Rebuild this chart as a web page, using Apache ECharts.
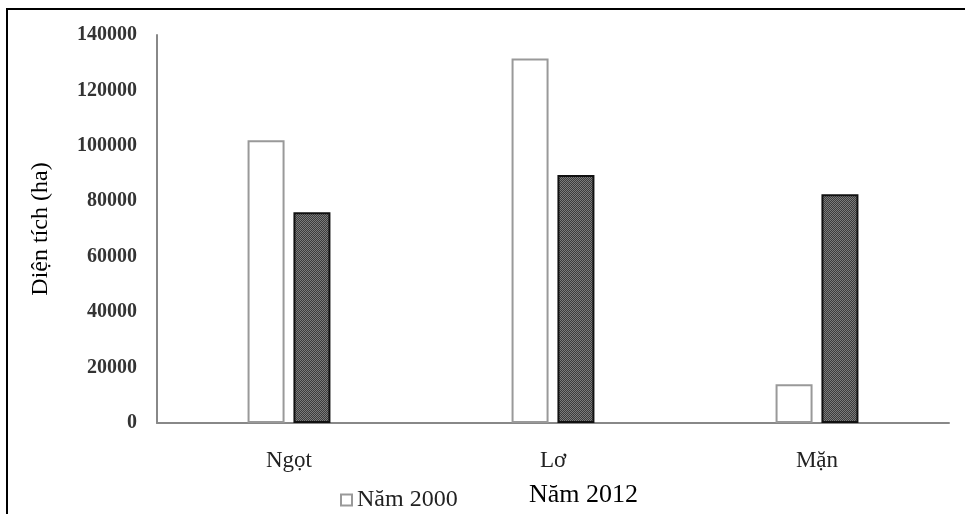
<!DOCTYPE html>
<html>
<head>
<meta charset="utf-8">
<script src="https://cdn.jsdelivr.net/npm/echarts@6/dist/echarts.min.js"></script>
<style>
  html, body { margin: 0; padding: 0; background: #fff; }
  #chart { width: 965px; height: 514px; }
</style>
</head>
<body>
<div id="chart"></div>
<script>
// Diện tích theo loại nước (ha)
const categories = ['Ngọt', 'Lơ', 'Mặn'];
const nam2000 = [102000, 131500, 14000];
const nam2012 = [76000, 89500, 82500];
const yTicks = [0, 20000, 40000, 60000, 80000, 100000, 120000, 140000];

// Dotted dark fill for the 2012 bars
function makePattern() {
  const c = document.createElement('canvas');
  c.width = 2; c.height = 2;
  const ctx = c.getContext('2d');
  ctx.fillStyle = '#3c3c3c'; ctx.fillRect(0, 0, 2, 2);
  ctx.fillStyle = '#7c7c7c'; ctx.fillRect(0, 0, 1, 1); ctx.fillRect(1, 1, 1, 1);
  return c;
}

const chart = echarts.init(document.getElementById('chart'));
chart.setOption({
  animation: false,
  backgroundColor: '#fff',
  graphic: [{
    type: 'rect',
    shape: { x: 7, y: 9, width: 980, height: 520 },
    style: { fill: 'none', stroke: '#000', lineWidth: 2 }
  }],
  grid: { left: 157, right: 16, top: 35, bottom: 91 },
  legend: [{
    data: ['Năm 2000'],
    left: 335, top: 483,
    itemWidth: 11, itemHeight: 11, itemGap: 2,
    icon: 'rect',
    textStyle: { fontFamily: 'Liberation Serif', fontSize: 24, color: '#222', padding: [0, 0, 0, 0] }
  }, {
    data: ['Năm 2012'],
    left: 518, top: 477,
    itemWidth: 0, itemHeight: 0, itemGap: 0,
    textStyle: { fontFamily: 'Liberation Serif', fontSize: 26, color: '#000' }
  }],
  xAxis: {
    type: 'category',
    data: categories,
    axisLine: { lineStyle: { color: '#888', width: 2 } },
    axisTick: { show: false },
    axisLabel: { fontFamily: 'Liberation Serif', fontSize: 23, color: '#222', margin: 26 }
  },
  yAxis: {
    type: 'value',
    min: 0, max: 140000, interval: 20000,
    name: 'Diện tích (ha)',
    nameLocation: 'middle',
    nameGap: 104,
    nameTextStyle: { fontFamily: 'Liberation Serif', fontSize: 24, color: '#000' },
    axisLine: { show: true, lineStyle: { color: '#888', width: 2 } },
    axisTick: { show: false },
    splitLine: { show: false },
    axisLabel: {
      fontFamily: 'Liberation Serif', fontWeight: 'bold', fontSize: 20, color: '#333', margin: 20,
      formatter: v => yTicks.includes(v) ? String(v) : ''
    }
  },
  series: [{
    name: 'Năm 2000',
    type: 'bar',
    data: nam2000,
    barWidth: 37,
    barGap: '24%',
    itemStyle: { color: '#fff', borderColor: '#999', borderWidth: 2 }
  }, {
    name: 'Năm 2012',
    type: 'bar',
    data: nam2012,
    barWidth: 37,
    barGap: '24%',
    itemStyle: { color: { image: makePattern(), repeat: 'repeat' }, borderColor: '#111', borderWidth: 2 }
  }]
});
</script>
</body>
</html>
